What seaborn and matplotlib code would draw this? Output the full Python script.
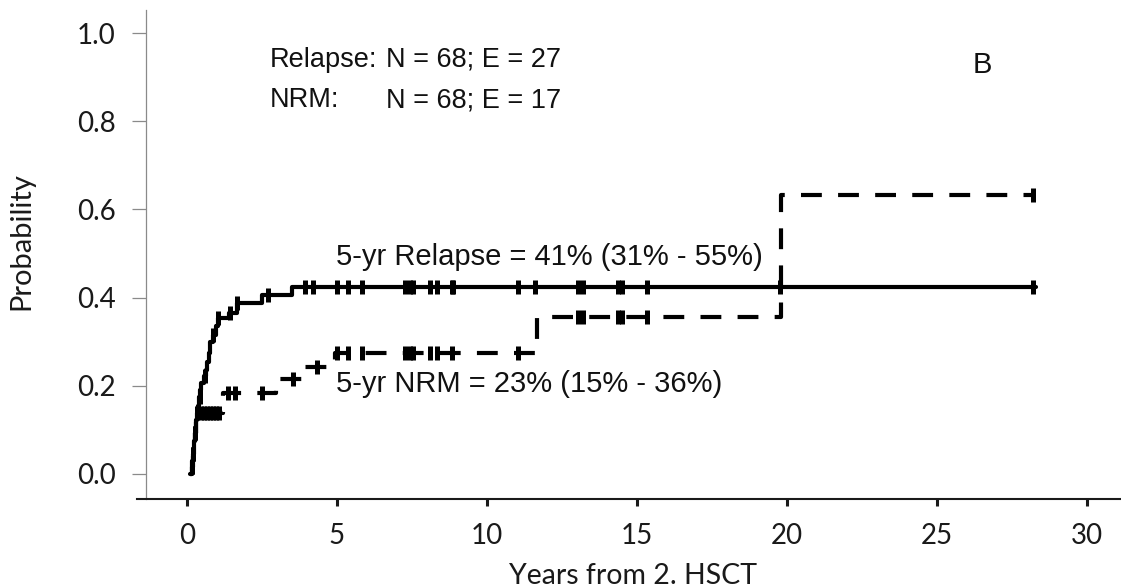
import numpy as np
import pandas as pd
import matplotlib
matplotlib.use("Agg")
import matplotlib.pyplot as plt
import seaborn as sns

# ---- data ----
relapse_times = [0.10, 0.16, 0.18, 0.20, 0.22, 0.24, 0.27, 0.29, 0.31, 0.33, 0.36, 0.40, 0.44,
                 0.48, 0.55, 0.62, 0.67, 0.72, 0.77, 0.85, 0.95, 1.04, 1.40, 1.65, 2.50, 3.50, 28.3]
relapse_vals = [0.0, 0.015, 0.03, 0.045, 0.06, 0.075, 0.093, 0.108, 0.123, 0.138, 0.155, 0.175, 0.19,
                0.206, 0.222, 0.236, 0.255, 0.275, 0.30, 0.315, 0.335, 0.353, 0.365, 0.388, 0.406, 0.424, 0.424]
relapse_censor = [0.16, 0.21, 0.27, 0.33, 0.43, 0.60, 0.87, 1.04, 1.43, 1.67, 2.7, 3.93, 4.21, 4.99,
                  5.38, 5.82, 7.27, 7.43, 7.54, 8.10, 8.32, 8.82, 8.88, 11.04, 11.6, 13.04, 13.21,
                  14.38, 14.49, 15.32, 19.77, 28.2]

nrm_times = [0.10, 0.16, 0.19, 0.21, 0.23, 0.25, 0.27, 0.29, 0.31, 0.33, 1.20, 2.95, 3.90, 4.93,
             11.66, 19.80, 28.3]
nrm_vals = [0.0, 0.015, 0.03, 0.045, 0.06, 0.075, 0.093, 0.108, 0.123, 0.138, 0.184, 0.215, 0.243,
            0.275, 0.356, 0.633, 0.633]
nrm_censor = [0.16, 0.21, 0.27, 0.45, 0.55, 0.65, 0.75, 0.85, 0.95, 1.05, 1.37, 1.60, 2.5, 3.53, 4.33,
              4.99, 5.38, 5.82, 7.27, 7.43, 7.54, 8.10, 8.32, 8.82, 11.04, 13.04, 13.21, 14.38,
              14.49, 15.32, 28.2]

x_ticks = [0, 5, 10, 15, 20, 25, 30]
y_ticks = [0.0, 0.2, 0.4, 0.6, 0.8, 1.0]
y_tick_labels = ["0.0", "0.2", "0.4", "0.6", "0.8", "1.0"]


def step_value(times, vals, t):
    idx = np.searchsorted(np.asarray(times), np.asarray(t), side="right") - 1
    return np.asarray(vals)[np.clip(idx, 0, len(vals) - 1)]


sns.set_theme(style="white")
plt.rcParams["font.family"] = ["Lato", "DejaVu Sans"]

W, H = 1121, 587
fig = plt.figure(figsize=(W / 100, H / 100), dpi=100)
L, R, T, B = 137, 1121, 10, 499
ax = fig.add_axes([L / W, (H - B) / H, (R - L) / W, (B - T) / H])

rel_df = pd.DataFrame({"t": relapse_times, "p": relapse_vals})
nrm_df = pd.DataFrame({"t": nrm_times, "p": nrm_vals})

sns.lineplot(data=rel_df, x="t", y="p", drawstyle="steps-post", estimator=None, sort=False,
             color="black", linewidth=3.0, ax=ax, legend=False)
sns.lineplot(data=nrm_df, x="t", y="p", drawstyle="steps-post", estimator=None, sort=False,
             color="black", linewidth=3.0, linestyle=(0, (5.0, 3.9)), ax=ax, legend=False)

rel_c = pd.DataFrame({"t": relapse_censor, "p": step_value(relapse_times, relapse_vals, relapse_censor)})
nrm_c = pd.DataFrame({"t": nrm_censor, "p": step_value(nrm_times, nrm_vals, nrm_censor)})
for cdf in (rel_c, nrm_c):
    sns.scatterplot(data=cdf, x="t", y="p", marker="|", s=90, linewidth=3.6, color="black",
                    ax=ax, legend=False, zorder=3)

# scales mapped to the reference pixel grid
x0, px_per_year = 187, 30.0
y0, px_per_unit = 474, 441.0
ax.set_xlim((L - x0) / px_per_year, (R - x0) / px_per_year)
ax.set_ylim((y0 - B) / px_per_unit, (y0 - T) / px_per_unit)

for s in ("top", "right"):
    ax.spines[s].set_visible(False)
ax.spines["left"].set_position(("data", (146 - x0) / px_per_year))
ax.spines["left"].set_color("#8a8a8a")
ax.spines["left"].set_linewidth(0.9)
ax.spines["bottom"].set_color("#1a1a1a")
ax.spines["bottom"].set_linewidth(1.5)

ax.set_xticks(x_ticks)
ax.set_xticklabels([str(v) for v in x_ticks])
ax.set_yticks(y_ticks)
ax.set_yticklabels(y_tick_labels)
ax.tick_params(axis="y", direction="out", length=10, width=0.9, color="#8a8a8a",
               labelsize=20, labelcolor="#1a1a1a", pad=12, left=True)
ax.tick_params(axis="x", direction="out", length=5, width=2.2, color="#1a1a1a",
               labelsize=20, labelcolor="#1a1a1a", pad=12, bottom=True)
ax.grid(False)

ax.set_xlabel("Years from 2. HSCT", fontsize=20.5, color="#1a1a1a")
ax.set_ylabel("Probability", fontsize=21, color="#1a1a1a")
ax.xaxis.set_label_coords((633 - L) / (R - L), (B - 563) / (B - T), transform=ax.transAxes)
ax.yaxis.set_label_coords((34 - L) / (R - L), (B - 241) / (B - T), transform=ax.transAxes)

tf = dict(fontfamily="Liberation Sans", fontsize=21, color="#111111", va="baseline")
hf = dict(tf, fontsize=19.5)
ax.text(2.75, 0.923, "Relapse:", **hf)
ax.text(6.65, 0.923, "N = 68; E = 27", **hf)
ax.text(2.75, 0.832, "NRM:", **hf)
ax.text(6.65, 0.832, "N = 68; E = 17", **hf)
ax.text(26.2, 0.909, "B", **tf)
ax.text(4.97, 0.474, "5-yr Relapse = 41% (31% - 55%)", **tf)
ax.text(4.97, 0.186, "5-yr NRM = 23% (15% - 36%)", **tf)

fig.savefig("out.png", dpi=100, facecolor="white")
